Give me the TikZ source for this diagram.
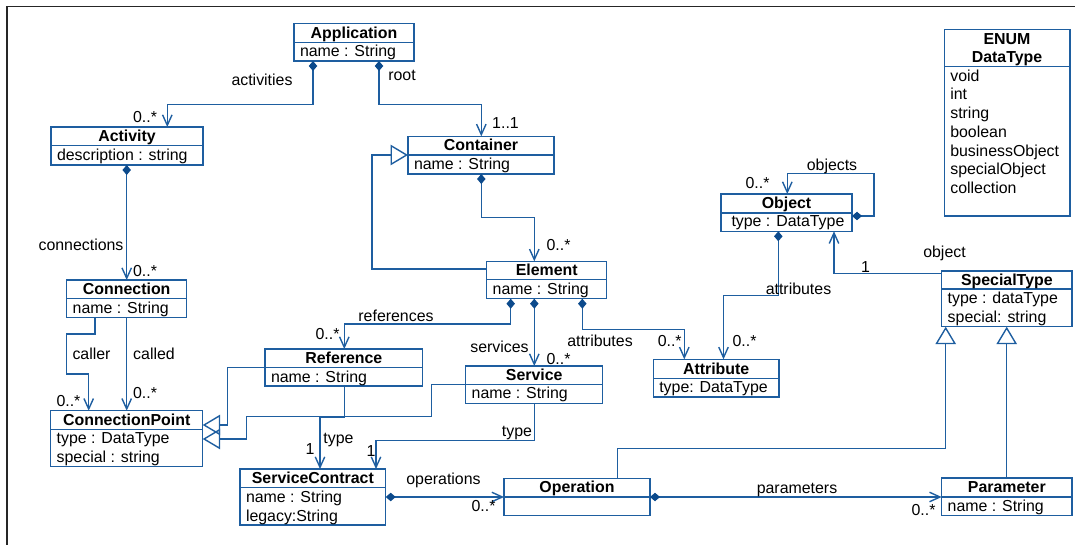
\documentclass[tikz,border=0pt]{standalone}
\usepackage{fontspec}
\setmainfont{Liberation Sans}
\usetikzlibrary{arrows.meta,calc}
\definecolor{umlblue}{RGB}{30,94,160}
\definecolor{dblue}{RGB}{12,74,140}
\tikzset{
  txtbase/.style={font=\fontsize{15.9}{18.7}\selectfont, inner sep=0pt, outer sep=0pt, text=black},
  clsbox/.style={draw=umlblue, line width=1.5pt, rectangle, inner sep=0pt, outer sep=0pt},
  divline/.style={draw=umlblue, line width=1.5pt},
  ttl/.style={txtbase, font=\fontsize{15.9}{18.7}\selectfont\bfseries, anchor=base},
  attrtxt/.style={txtbase, anchor=base west},
  lbl/.style={txtbase, anchor=base},
  cline/.style={draw=umlblue, line width=1.4pt},
  assoc/.style={cline, -{Straight Barb[length=10.5pt,width=9.5pt]}},
  comp/.style={cline, {Diamond[length=10pt,width=8.5pt,color=dblue,fill=dblue]}-{Straight Barb[length=10.5pt,width=9.5pt]}},
  gen/.style={cline, -{Triangle[open,length=17.5pt,width=20.5pt]}},
}
% name, left, top, right, bottom, divider, title
\newcommand\umlcls[7]{%
  \node[clsbox, minimum width={#4-#2}, minimum height={#5-#3}, anchor=north west] (#1) at (#2,#3) {};
  \draw[divline] (#2,#6) -- (#4,#6);
  \node[ttl] (#1-t) at ({(#2+#4)/2},{(#3+#6)/2+5.3}) {#7};
}
\newcommand\umlattr[4]{\node[attrtxt] (#1) at (#2,#3) {#4};}
\newcommand\umllbl[4]{\node[lbl] (#1) at (#2,#3) {#4};}
\begin{document}
\begin{tikzpicture}[x=1pt,y=-1pt]
\useasboundingbox (0,0) rectangle (1075,545);
% frame
\draw[black!85, line width=1.3pt] (7,545) -- (7,6.7) -- (1075,6.7);

% classes
\umlcls{app}{294}{23.3}{414}{61}{42.3}{Application}
\umlattr{app-a1}{300}{56.9}{name : String}

\umlcls{act}{51}{127}{203}{165}{145.7}{Activity}
\umlattr{act-a1}{57}{160.3}{description : string}

\umlcls{cont}{408}{136.3}{554}{174}{155}{Container}
\umlattr{cont-a1}{414}{169.6}{name : String}

\umlcls{obj}{721}{194}{852}{231.3}{213}{Object}
\umlattr{obj-a1}{731.5}{227}{type : DataType}

% enum
\node[clsbox, minimum width=125.5, minimum height=186.7, anchor=north west] (enum) at (944.3,29.3) {};
\draw[divline] (944.3,66.7) -- (1069.8,66.7);
\node[ttl] (enum-t) at (1007,44.3) {ENUM};
\node[ttl] (enum-t2) at (1007,62.5) {DataType};
\umlattr{e1}{950.3}{81.3}{void}
\umlattr{e2}{950.3}{100}{int}
\umlattr{e3}{950.3}{118.7}{string}
\umlattr{e4}{950.3}{137.4}{boolean}
\umlattr{e5}{950.3}{156.1}{businessObject}
\umlattr{e6}{950.3}{174.8}{specialObject}
\umlattr{e7}{950.3}{193.5}{collection}

\umlcls{spec}{941.7}{271}{1072}{326.7}{289}{SpecialType}
\umlattr{spec-a1}{947.7}{303.6}{type : dataType}
\umlattr{spec-a2}{947.7}{322.3}{special: string}

\umlcls{param}{941.7}{478}{1072}{515.3}{497}{Parameter}
\umlattr{param-a1}{947.7}{511.6}{name : String}

\umlcls{conn}{66.7}{280}{186.7}{317.3}{298.7}{Connection}
\umlattr{conn-a1}{72.7}{313.3}{name : String}

\umlcls{cp}{50.7}{410.7}{202.7}{466.7}{429.3}{ConnectionPoint}
\umlattr{cp-a1}{56.7}{443.9}{type : DataType}
\umlattr{cp-a2}{56.7}{462.6}{special : string}

\umlcls{ref}{265}{349}{422.7}{386}{367.7}{Reference}
\umlattr{ref-a1}{271}{382.3}{name : String}

\umlcls{elem}{486.7}{261.3}{606.7}{298.7}{279.7}{Element}
\umlattr{elem-a1}{492.7}{294.5}{name : String}

\umlcls{serv}{465.7}{366}{602.7}{403.3}{384.3}{Service}
\umlattr{serv-a1}{471.7}{398.9}{name : String}

\umlcls{attr}{653.3}{359.3}{779}{397}{378.3}{Attribute}
\umlattr{attr-a1}{659.3}{392.9}{type: DataType}

\umlcls{sc}{240}{469}{385.7}{525}{487.7}{ServiceContract}
\umlattr{sc-a1}{246}{502.3}{name : String}
\umlattr{sc-a2}{246}{521}{legacy:String}

\umlcls{op}{504}{478.3}{650}{515.7}{497}{Operation}

% connectors
\draw[comp] (313,0 |- app.south) |- (167.3,104.3) -- (167.3,0 |- act.north);
\draw[comp] (379,0 |- app.south) |- (481.3,104.3) -- (481.3,0 |- cont.north);
\draw[comp] (481.3,0 |- cont.south) |- (534.3,217.7) -- (534.3,0 |- elem.north);
\draw[gen] (elem.west |- 0,269) -| (372,155) -- (cont.west |- 0,155);
\draw[comp] (126.7,0 |- act.south) -- (126.7,0 |- conn.north);
\draw[assoc] (95,0 |- conn.south) |- (66.7,334) |- (88.7,374) -- (88.7,0 |- cp.north);
\draw[assoc] (126.7,0 |- conn.south) -- (126.7,0 |- cp.north);
\draw[comp] (510.7,0 |- elem.south) |- (344.3,324) -- (344.3,0 |- ref.north);
\draw[comp] (534.3,0 |- elem.south) -- (534.3,0 |- serv.north);
\draw[comp] (582.3,0 |- elem.south) |- (684.3,329.3) -- (684.3,0 |- attr.north);
\draw[comp] (778.3,0 |- obj.south) |- (723.5,295.3) -- (723.5,0 |- attr.north);
\draw[comp] (obj.east |- 0,216) -| (874,173.3) -| (787.3,0 |- obj.north);
\draw[assoc] (spec.west |- 0,273.3) -| (834,0 |- obj.south);
\draw[gen] (617.7,0 |- op.north) |- (945.7,448.3) -- (945.7,0 |- spec.south);
\draw[gen] (1006.7,0 |- param.north) -- (1006.7,0 |- spec.south);
\draw[comp] (sc.east |- 0,497) -- (op.west |- 0,497);
\draw[comp] (op.east |- 0,497) -- (param.west |- 0,497);
\draw[assoc] (344.3,0 |- ref.south) |- (320,417.3) -- (320,0 |- sc.north);
\draw[assoc] (534.3,0 |- serv.south) |- (376,440.7) -- (376,0 |- sc.north);
\draw[gen] (ref.west |- 0,367.3) -| (227.7,425) -- (cp.east |- 0,425);
\draw[gen] (serv.west |- 0,384.3) -| (431.7,416.7) -| (246.7,439) -- (cp.east |- 0,439);

% labels
\umllbl{l1}{262}{85.7}{activities}
\umllbl{l2}{145}{122.7}{0..*}
\umllbl{l3}{402}{81}{root}
\umllbl{l4}{505.5}{128.3}{1..1}
\umllbl{l5}{558.5}{251}{0..*}
\umllbl{l6}{81}{251}{connections}
\umllbl{l7}{145}{276}{0..*}
\umllbl{l8}{91.5}{359.3}{caller}
\umllbl{l9}{154}{359.3}{called}
\umllbl{l10}{68.5}{406}{0..*}
\umllbl{l11}{145}{398.3}{0..*}
\umllbl{l12}{396}{321.7}{references}
\umllbl{l13}{327.5}{339.3}{0..*}
\umllbl{l14}{499.5}{352.7}{services}
\umllbl{l15}{558.5}{364}{0..*}
\umllbl{l16}{600}{346}{attributes}
\umllbl{l17}{669.7}{346.7}{0..*}
\umllbl{l18}{744.5}{346.7}{0..*}
\umllbl{l19}{798.5}{294}{attributes}
\umllbl{l20}{832}{170.7}{objects}
\umllbl{l21}{757.5}{188.3}{0..*}
\umllbl{l22}{944.5}{257.7}{object}
\umllbl{l23}{865.5}{272.5}{1}
\umllbl{l24}{443.5}{484}{operations}
\umllbl{l25}{483.5}{511}{0..*}
\umllbl{l26}{797}{493.3}{parameters}
\umllbl{l27}{923.5}{515}{0..*}
\umllbl{l28}{338.5}{443}{type}
\umllbl{l29}{310}{454}{1}
\umllbl{l30}{517}{436.7}{type}
\umllbl{l31}{371}{456}{1}
\end{tikzpicture}
\end{document}
